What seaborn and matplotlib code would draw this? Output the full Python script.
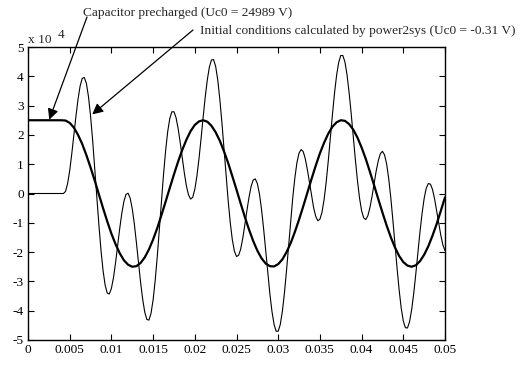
import numpy as np
import pandas as pd
import matplotlib
matplotlib.use("Agg")
import matplotlib.pyplot as plt
import seaborn as sns

# capacitor voltage, in units of 100 V
# precharged case sampled every 0.5 ms, power2sys case every 0.25 ms
t_pre = np.linspace(0, 0.05, 101)
uc_pre = [250, 250, 250, 250, 250, 250, 250, 250, 250, 249, 241, 225, 200, 169, 131, 89, 44, -3,
          -50, -95, -137, -173, -204, -228, -243, -250, -248, -237, -218, -191, -157, -118, -74, -28,
          19, 65, 109, 149, 184, 213, 234, 246, 250, 245, 231, 209, 180, 144, 104, 59, 13,
          -34, -80, -123, -162, -195, -221, -239, -248, -249, -241, -225, -200, -169, -131, -89, -44, 3,
          50, 95, 137, 173, 204, 228, 243, 250, 248, 237, 218, 191, 157, 118, 74, 28,
          -19, -65, -109, -149, -184, -213, -234, -246, -250, -245, -231, -209, -180, -144, -104, -59, -13]

t_p2s = np.linspace(0, 0.05, 201)
uc_p2s = [0, 0, 0, 0, 0, 0, 0, 0, 0, 0, 0, 0, 0, 0, 0, 0, 0, 0, 7, 34,
          78, 136, 200, 264, 322, 367, 393, 396, 376, 331,
          265, 182, 88, -11, -107, -193, -263, -313, -340, -343,
          -324, -287, -236, -178, -119, -67, -27, -3, 1, -16,
          -52, -104, -168, -236, -303, -361, -405, -430, -432, -409,
          -363, -297, -215, -122, -27, 65, 146, 211, 256, 279,
          279, 259, 222, 174, 121, 69, 25, -5, -19, -13,
          14, 59, 118, 187, 260, 329, 388, 432, 456, 457,
          434, 388, 322, 242, 153, 62, -24, -99, -158, -197,
          -215, -211, -190, -153, -107, -58, -13, 24, 46, 50,
          34, -1, -54, -120, -194, -270, -342, -402, -446, -470,
          -470, -447, -402, -339, -262, -178, -93, -13, 54, 106,
          138, 150, 143, 118, 81, 37, -8, -49, -78, -93,
          -88, -64, -21, 38, 110, 189, 268, 342, 403, 447,
          471, 471, 449, 406, 345, 273, 195, 116, 45, -15,
          -59, -83, -89, -76, -48, -10, 34, 77, 112, 136,
          144, 132, 101, 51, -14, -91, -173, -254, -329, -391,
          -435, -458, -459, -438, -397, -341, -274, -202, -131, -68,
          -17, 18, 34, 32, 14, -18, -59, -102, -143, -176,
          -195]

xticks = [0, 0.005, 0.01, 0.015, 0.02, 0.025, 0.03, 0.035, 0.04, 0.045, 0.05]
xticklabels = ["0", "0.005", "0.01", "0.015", "0.02", "0.025", "0.03", "0.035", "0.04", "0.045", "0.05"]
yticks = [-5, -4, -3, -2, -1, 0, 1, 2, 3, 4, 5]

label_pre = "Capacitor precharged (Uc0 = 24989 V)"
label_p2s = "Initial conditions calculated by power2sys (Uc0 = -0.31 V)"

df_pre = pd.DataFrame({"t": t_pre, "uc": np.array(uc_pre) / 100})
df_p2s = pd.DataFrame({"t": t_p2s, "uc": np.array(uc_p2s) / 100})

sns.set_style("white")
plt.rcParams["font.family"] = ["Liberation Serif", "DejaVu Serif"]
fs = 9.6

fig = plt.figure(figsize=(5.28, 3.69), dpi=100)
ax = fig.add_axes([28 / 528, 1 - 340 / 369, 417 / 528, 293 / 369])

sns.lineplot(data=df_p2s, x="t", y="uc", color="black", linewidth=0.8, ax=ax)
sns.lineplot(data=df_pre, x="t", y="uc", color="black", linewidth=1.6, ax=ax)

ax.set_xlim(0, 0.05)
ax.set_ylim(-5, 5)
ax.set_xticks(xticks)
ax.set_xticklabels(xticklabels)
ax.set_yticks(yticks)
ax.set_yticklabels([str(v) for v in yticks])
ax.set_xlabel("")
ax.set_ylabel("")
for s in ax.spines.values():
    s.set_visible(True)
    s.set_color("black")
    s.set_linewidth(1.0)
ax.tick_params(direction="in", length=4, width=0.8, top=True, right=True,
               bottom=True, left=True, colors="black", labelsize=fs, pad=3)

# scale factor as matlab prints it
ax.text(0, 1.003, "x 10", transform=ax.transAxes, ha="left", va="bottom", fontsize=fs)
ax.text(0.072, 1.02, "4", transform=ax.transAxes, ha="left", va="bottom", fontsize=fs)

fig.text(83 / 528, 1 - 13 / 369, label_pre, ha="left", va="center", fontsize=fs)
fig.text(200 / 528, 1 - 31 / 369, label_p2s, ha="left", va="center", fontsize=fs)

arrow = dict(arrowstyle="-|>", color="black", lw=0.9, mutation_scale=16,
             shrinkA=0, shrinkB=0)
ax.annotate("", xy=(0.00255, 2.52), xycoords="data",
            xytext=(87 / 528, 1 - 17 / 369), textcoords="figure fraction",
            arrowprops=arrow)
ax.annotate("", xy=(0.0077, 2.70), xycoords="data",
            xytext=(193 / 528, 1 - 30 / 369), textcoords="figure fraction",
            arrowprops=arrow)

fig.savefig("out.png", dpi=100)
